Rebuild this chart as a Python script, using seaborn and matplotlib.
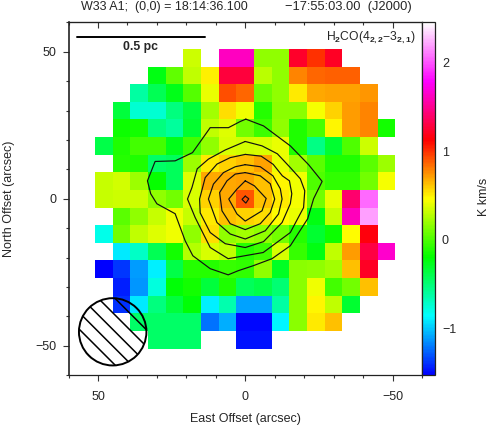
import numpy as np
import matplotlib
matplotlib.use("Agg")
import matplotlib.pyplot as plt
from matplotlib.colors import LinearSegmentedColormap
from matplotlib.patches import Circle
import seaborn as sns

sns.set_style("ticks")
plt.rcParams['font.family'] = ['Liberation Sans', 'DejaVu Sans']
plt.rcParams['mathtext.fontset'] = 'custom'
plt.rcParams['mathtext.rm'] = 'Liberation Sans'
plt.rcParams['mathtext.bf'] = 'Liberation Sans:bold'
plt.rcParams['hatch.linewidth'] = 1.1

na = np.nan
# integrated intensity (K km/s), rows from north (+48") to south (-48"), columns east (+48") to west (-48")
flux = [
    [na, na, na, na, na, .33, na, 1.62, 1.62, .17, .17, 1.23, 1.0, 1.22, na, na, na],
    [na, na, na, -.25, .05, .3, .5, 1.27, 1.27, .28, .17, .78, .85, .87, .87, na, na],
    [na, na, -.62, -.42, -.27, .02, .4, .92, .85, .08, .17, .52, .68, .7, .7, .73, na],
    [na, -.35, -.75, -.75, -.52, -.36, .22, .55, .42, -.1, .15, .15, .43, .57, .72, .78, na],
    [na, -.17, -.15, -.52, -.6, -.33, .3, .38, .1, -.05, .17, -.12, -.02, .48, .72, .78, -.15],
    [-.38, -.12, -.03, -.03, -.27, -.03, .17, .36, .34, .36, .4, -.12, -.54, -.33, 0, .33, na],
    [na, -.1, -.13, -.46, -.44, .2, .52, .58, .62, .7, .4, .22, .03, -.12, -.12, .03, .2],
    [.32, .35, .2, -.18, -.44, .38, .68, .68, .7, .62, .48, .42, 0, -.08, -.08, .1, .43],
    [.32, .33, .33, .17, .1, .36, .58, .68, .9, .62, .52, .43, .1, .4, 1.4, 2.05, na],
    [na, .03, .17, .32, .42, .32, .52, .63, .58, .55, .47, .4, -.25, .32, 1.6, 2.2, na],
    [-.8, .1, .3, .38, .42, .17, .55, .18, .22, .17, .1, -.1, -.33, -.17, .47, 1.15, na],
    [na, -.92, -.72, -.42, -.15, .27, .36, .3, -.1, -.05, .36, -.06, -.25, .3, .72, 1.3, 1.65],
    [-1.53, -1.38, -1.12, -.9, -.38, -.1, -.1, -.06, -.07, .17, -.3, .15, .17, .22, .62, 1.22, na],
    [na, -1.45, -1.13, -.78, -.22, -.16, -.36, -.13, -.44, -.38, -.49, .15, .42, -.03, .1, .63, na],
    [na, -1.4, -.92, -.52, -.36, -.22, -.9, -.65, -1.1, -1.1, -.62, .15, .48, .3, -.33, na, na],
    [na, na, -.46, -.46, -.46, -.46, -1.23, -1.07, -1.5, -1.5, -.88, .15, .52, .63, na, na, na],
    [na, na, na, -.46, -.46, -.46, na, na, -1.47, -1.47, na, na, na, na, na, na, na],
]
flux_min = -1.531
flux_max = 2.452

# contours as (east offset, north offset) in arcsec
contour_1 = [(-0.2, 27.1), (-6.2, 24.8), (-15.3, 18.0), (-21.5, 11.6), (-26.1, 5.9), (-23.2, 0), (-21.2, -6.8),
             (-15.3, -16.0), (-9.1, -20.4), (-2.7, -22.8), (2.4, -24.5), (5.8, -25.9), (11.9, -23.8), (17.8, -19.4),
             (20.4, -14.3), (23.8, -5.1), (30.0, -1.7), (32.1, 1.7), (33.2, 6.1), (30.6, 12.7), (23.8, 12.9),
             (17.9, 15.7), (11.9, 24.2), (5.7, 24.2), (1.7, 26.3)]
contour_2 = [(0, 19.5), (-5.7, 18.0), (-10.9, 15.3), (-15.3, 10.6), (-18.7, 6.8), (-20.2, 2.7), (-19.8, -3.0),
             (-15.3, -11.5), (-6.1, -18.3), (5.8, -20.4), (11.9, -16.6), (17.0, -6.4), (19.6, -0.1), (18.1, 3.8),
             (16.3, 10.2), (12.5, 13.5), (6.8, 16.6)]
contour_3 = [(0, 15.1), (-5.4, 14.5), (-9.5, 11.7), (-12.6, 7.8), (-15.0, 6.1), (-15.8, 1.7), (-15.3, -1.7),
             (-12.5, -8.1), (-6.2, -14.6), (0, -16.6), (6.8, -15.3), (11.9, -11.5), (15.3, -4.8), (15.5, -0.1),
             (13.6, 7.2), (9.6, 11.8), (5.1, 14.0)]
contour_4 = [(0, 11.6), (-5.1, 10.9), (-9.4, 7.8), (-11.9, 3.4), (-12.5, -0.1), (-11.3, -5.2), (-6.8, -10.9),
             (0, -13.7), (5.1, -12.0), (9.6, -8.1), (12.5, -0.1), (10.8, 5.0), (7.4, 8.9), (3.4, 10.9)]
contour_5 = [(0, 8.9), (-5.1, 7.8), (-8.5, 5.1), (-10, -0.1), (-8.5, -4.7), (-5.1, -8.5), (0, -10.5), (5.1, -8.5),
             (7.9, -4.1), (8.7, 2.1), (6.2, 6.1), (3.4, 8.4)]
contour_6 = [(0, 6.1), (-3.1, 4.4), (-7.1, 0.1), (-5.7, -4.1), (0, -7.6), (2.8, -5.2), (5.6, -0.1), (2.8, 3.3)]
contour_7 = [(0, 0.9), (-1.2, 0), (-0.2, -1.5), (1.1, -0.2)]
contours = [contour_1, contour_2, contour_3, contour_4, contour_5, contour_6, contour_7]

major_ticks = [50, 0, -50]
major_labels = ['50', '0', '\u221250']
minor_ticks = [60, 40, 30, 20, 10, -10, -20, -30, -40, -60]
cbar_ticks = [-1, 0, 1, 2]
cbar_labels = ['\u22121', '0', '1', '2']
cbar_minor = [-1.4, -1.2, -.8, -.6, -.4, -.2, .2, .4, .6, .8, 1.2, 1.4, 1.6, 1.8, 2.2, 2.4]

def pos(offset):
    # arcsec offset to heatmap cell coordinate, cells are 6 arcsec wide
    return 8.5 - np.asarray(offset, dtype=float) / 6.0

W, H = 491, 425
fig = plt.figure(figsize=(W / 100, H / 100), dpi=100)
ax = fig.add_axes([68.5 / W, 1 - 375 / H, 353.5 / W, 352.5 / H])
cax = fig.add_axes([422 / W, 1 - 375 / H, 13 / W, 352.5 / H])

cmap = LinearSegmentedColormap.from_list(
    'rainbow_white', ['#0000ff', '#00ffff', '#00ff00', '#ffff00', '#ff0000', '#ff00ff', '#ffffff'], N=256)
sns.heatmap(np.array(flux), ax=ax, cbar_ax=cax, cmap=cmap, vmin=flux_min, vmax=flux_max,
            xticklabels=False, yticklabels=False, square=False)
ax.set_xlim(pos(60), pos(-60))
ax.set_ylim(pos(-60), pos(60))

for c in contours:
    pts = np.array(c + [c[0]])
    ax.plot(pos(pts[:, 0]), pos(pts[:, 1]), color='#111111', lw=0.85, solid_joinstyle='miter')

# beam
ax.add_patch(Circle((pos(45), pos(-45.3)), 11.45 / 6, facecolor='none', edgecolor='black', lw=1.4, hatch='\\\\'))
# scale bar
ax.plot(pos([57.1, 13.6]), pos([54.9, 54.9]), color='black', lw=1.4)
ax.text(pos(35.5), pos(51.6), '0.5 pc', fontsize=8.8, fontweight='bold', ha='center', va='center')
ax.text(pos(-58), pos(54.8), r'H$_{\mathbf{2}}$CO(4$_{\mathbf{2,2}}$$-$3$_{\mathbf{2,1}}$)', fontsize=8.7,
        ha='right', va='center', clip_on=False)

ax.set_xticks(pos(major_ticks), major_labels, fontsize=9)
ax.set_yticks(pos(major_ticks), major_labels, fontsize=9)
ax.set_xticks(pos(minor_ticks), minor=True)
ax.set_yticks(pos(minor_ticks), minor=True)
ax.tick_params(which='major', direction='out', length=4.5, width=0.8, color='#333333', pad=7)
ax.tick_params(axis='y', which='major', pad=4)
ax.tick_params(which='minor', direction='out', length=2.2, width=0.8, color='#333333')
ax.xaxis.set_ticks_position('bottom')
ax.yaxis.set_ticks_position('left')

top = ax.secondary_xaxis('top')
top.set_xticks(pos(major_ticks), ['', '', ''])
top.set_xticks(pos(minor_ticks), minor=True)
top.tick_params(which='major', direction='in', length=4.5, width=0.8, color='#333333')
top.tick_params(which='minor', direction='in', length=2.2, width=0.8, color='#333333')

for s in ['left', 'bottom', 'top', 'right']:
    ax.spines[s].set_visible(True)
    ax.spines[s].set_color('#222222')
    ax.spines[s].set_linewidth(0.9)
ax.spines['left'].set_linewidth(1.2)

ax.set_xlabel('East Offset (arcsec)', fontsize=9, labelpad=7)
ax.set_ylabel('North Offset (arcsec)', fontsize=9, labelpad=14.5)

cbar = ax.collections[0].colorbar
cbar.set_ticks(cbar_ticks, labels=cbar_labels)
cbar.set_ticks(cbar_minor, minor=True)
cax.tick_params(which='major', direction='in', length=5, width=0.8, color='#444444', labelsize=9, pad=5)
cax.tick_params(which='minor', direction='in', length=2.8, width=0.8, color='#444444')
cbar.outline.set_edgecolor('#222222')
cbar.outline.set_linewidth(0.9)
cbar.outline.set_visible(True)

fig.text(81 / W, 1 - 7 / H, 'W33 A1;  (0,0) = 18:14:36.100', fontsize=9, va='center', ha='left')
fig.text(285 / W, 1 - 7 / H, '\u221217:55:03.00  (J2000)', fontsize=9.3, va='center', ha='left')
fig.text(484 / W, 1 - 197 / H, 'K km/s', fontsize=9, rotation=90, va='center', ha='center')

fig.savefig('out.png', dpi=100)
